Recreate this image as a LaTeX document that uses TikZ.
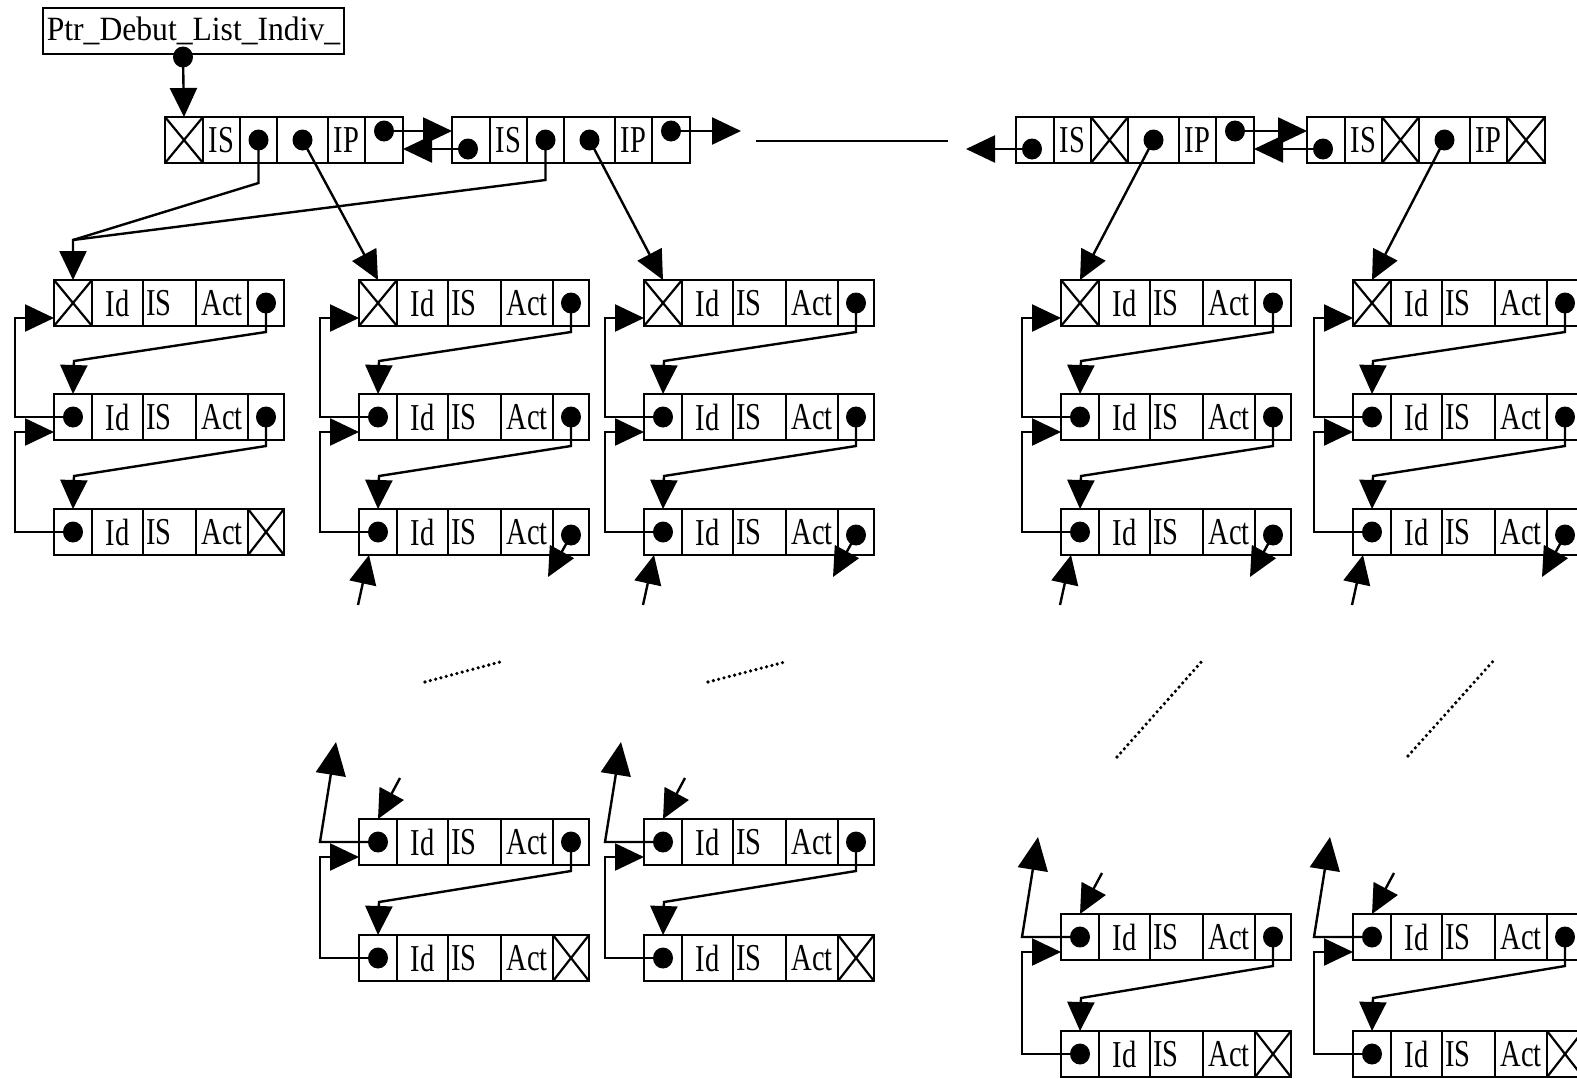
\documentclass[tikz,border=0pt]{standalone}
\usepackage{fontspec}
\setmainfont{Liberation Serif}
\newfontfamily\cellfont{Liberation Serif}[FakeStretch=0.75]
\newfontfamily\ptrfont{Liberation Serif}[FakeStretch=0.93]
\usetikzlibrary{arrows.meta,calc}
\tikzset{
 cell/.style={draw, line width=2.2pt, inner sep=0pt, outer sep=0pt, minimum height=46pt, anchor=north west, font=\cellfont\fontsize{38}{38}\selectfont},
 ar/.style={line width=2.4pt, -{Triangle[length=29pt,width=27pt]}},
 bigar/.style={line width=2.4pt, -{Triangle[length=33pt,width=30pt]}},
 ln/.style={line width=2.4pt},
 thinln/.style={line width=1.4pt},
 dotline/.style={line width=3.6pt, line cap=round, dash pattern=on 0pt off 5.5pt},
}
\newcommand\bdot[1]{\fill #1 ellipse [x radius=10pt, y radius=10.5pt];}
\newcommand\xc[1]{\draw[line width=2.2pt] (#1.north west) -- (#1.south east) (#1.north east) -- (#1.south west);}
% list record
\newcommand\lrec[3]{%
 \node[cell, minimum width=38pt] (#1a) at (#2,#3) {};
 \node[cell, minimum width=51pt] (#1b) at (#1a.north east) {\makebox[51pt][c]{Id}};
 \node[cell, minimum width=53pt] (#1c) at (#1b.north east) {\makebox[53pt][l]{\hspace{3pt}IS}};
 \node[cell, minimum width=52pt] (#1d) at (#1c.north east) {\makebox[52pt][c]{Act}};
 \node[cell, minimum width=36pt] (#1e) at (#1d.north east) {};
}
% top record
\newcommand\trec[3]{%
 \node[cell, minimum width=38pt] (#1a) at (#2,#3) {};
 \node[cell, minimum width=37pt] (#1b) at (#1a.north east) {IS};
 \node[cell, minimum width=37pt] (#1c) at (#1b.north east) {};
 \node[cell, minimum width=51pt] (#1d) at (#1c.north east) {};
 \node[cell, minimum width=37pt] (#1e) at (#1d.north east) {IP};
 \node[cell, minimum width=38pt] (#1f) at (#1e.north east) {};
}
\newcommand\nextp[2]{\draw[ar] (#1e.center) -- ([yshift=-6pt]#1e.south) -- ([shift={(1pt,33pt)}]#2a.north) -- (#2a.north);}
\newcommand\prevp[2]{\draw[ar] (#2a.center) -| ([shift={(-39pt,-15pt)}]#1a.west) -- ([yshift=-15pt]#1a.west);}
\newcommand\tailp[1]{%
 \coordinate (#1up) at ([shift={(-20pt,-50pt)}]#1a.south);
 \draw[ar] (#1up) -- ([xshift=-9pt]#1a.south);
 \coordinate (#1dn) at ([shift={(-23pt,-45pt)}]#1e.center);
 \draw[ar] ([yshift=-3pt]#1e.center) -- (#1dn);
}
\newcommand\headp[1]{%
 \coordinate (#1top) at ([shift={(-23pt,100pt)}]#1a.west);
 \draw[bigar] (#1a.center) -- ([xshift=-39pt]#1a.west) -- (#1top);
 \coordinate (#1in) at ([shift={(22pt,41pt)}]#1a.north);
 \draw[ar] (#1in) -- (#1a.north);
}
\begin{document}
\begin{tikzpicture}[x=1pt,y=-1pt]
\path[use as bounding box, fill=white] (0,0) rectangle (1577,1079);

% head pointer
\node[cell, minimum width=301pt, font=\ptrfont\fontsize{34}{34}\selectfont] (ptr) at (43,8) {Ptr\_Debut\_List\_Indiv\_};

% top records
\trec{R1}{165}{117}
\trec{R2}{452}{117}
\trec{R3}{1016}{117}
\trec{R4}{1307}{117}
\xc{R1a} \xc{R3c} \xc{R4c} \xc{R4f}

\coordinate (P0) at ([xshift=140pt,yshift=-3pt]ptr.south west);
\coordinate (R1fd) at ([yshift=9pt]R1f.center);
\coordinate (R2ad) at ([shift={(-3pt,-9pt)}]R2a.center);
\coordinate (R2fd) at ([yshift=9pt]R2f.center);
\coordinate (R3ad) at ([shift={(-3pt,-9pt)}]R3a.center);
\coordinate (R3fd) at ([yshift=9pt]R3f.center);
\coordinate (R4ad) at ([shift={(-3pt,-9pt)}]R4a.center);

\draw[ar] (P0) -- (R1a.north);
\draw[ar] (R1fd) -- (R1fd -| R2a.west);
\draw[ar] (R2ad) -- (R2ad -| R1f.east);
\coordinate (R2out) at ([xshift=70pt]R2fd);
\draw[ar] (R2fd) -- (R2out);
\coordinate (R3in) at ([xshift=-66pt]R3ad);
\draw[ar] (R3ad) -- (R3in);
\draw[ar] (R3fd) -- (R3fd -| R4a.west);
\draw[ar] (R4ad) -- (R4ad -| R3f.east);
\coordinate (h1) at (756,141);
\coordinate (h2) at (948,141);
\draw[thinln] (h1) -- (h2);

% top lists
\lrec{A1}{54}{280} \lrec{A2}{54}{394} \lrec{A3}{54}{509}
\xc{A1a} \xc{A3e}
\nextp{A1}{A2} \nextp{A2}{A3}
\prevp{A1}{A2} \prevp{A2}{A3}
\bdot{(A1e.center)} \bdot{(A2a.center)} \bdot{(A2e.center)} \bdot{(A3a.center)}

\foreach \col/\xx in {B/359, C/644, D/1061, E/1353} {
 \lrec{\col1}{\xx}{280} \lrec{\col2}{\xx}{394} \lrec{\col3}{\xx}{509}
 \xc{\col1a}
 \nextp{\col1}{\col2} \nextp{\col2}{\col3}
 \prevp{\col1}{\col2} \prevp{\col2}{\col3}
 \tailp{\col3}
 \bdot{(\col1e.center)} \bdot{(\col2a.center)} \bdot{(\col2e.center)} \bdot{(\col3a.center)}
 \bdot{([yshift=-3pt]\col3e.center)}
}

% top record to lists
\coordinate (conv) at ([yshift=40pt]A1a.north);
\draw[ar] (R1c.center) -- ([yshift=-20pt]R1c.south) -- (conv) -- (A1a.north);
\draw[ln] (R2c.center) -- ([yshift=-17pt]R2c.south) -- (conv);
\draw[ar] (R1d.center) -- (B1a.north);
\draw[ar] (R2d.center) -- (C1a.north);
\draw[ar] (R3d.center) -- (D1a.north);
\draw[ar] (R4d.center) -- (E1a.north);

\bdot{(P0)} \bdot{(R1c.center)} \bdot{(R1d.center)} \bdot{(R1fd)}
\bdot{(R2ad)} \bdot{(R2c.center)} \bdot{(R2d.center)} \bdot{(R2fd)}
\bdot{(R3ad)} \bdot{(R3d.center)} \bdot{(R3fd)}
\bdot{(R4ad)} \bdot{(R4d.center)}

% bottom lists
\foreach \col/\xx/\ya/\yb in {B/359/819/935, C/644/819/935, D/1061/914/1031, E/1353/914/1031} {
 \lrec{\col4}{\xx}{\ya} \lrec{\col5}{\xx}{\yb}
 \xc{\col5e}
 \nextp{\col4}{\col5}
 \prevp{\col4}{\col5}
 \headp{\col4}
 \bdot{(\col4a.center)} \bdot{(\col4e.center)} \bdot{(\col5a.center)}
}

% dotted continuation marks
\coordinate (d1a) at (425,682); \coordinate (d1b) at (500,662);
\coordinate (d2a) at (708,682); \coordinate (d2b) at (785,662);
\coordinate (d3a) at (1117,757); \coordinate (d3b) at (1203,660);
\coordinate (d4a) at (1408,756); \coordinate (d4b) at (1495,659);
\draw[dotline] (d1a) -- (d1b);
\draw[dotline] (d2a) -- (d2b);
\draw[dotline] (d3a) -- (d3b);
\draw[dotline] (d4a) -- (d4b);
\end{tikzpicture}
\end{document}
